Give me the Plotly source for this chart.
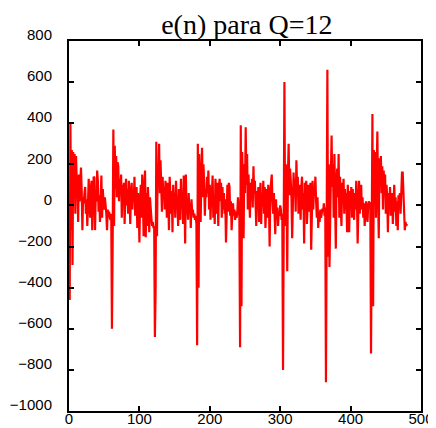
import plotly.graph_objects as go

# e(n) sample values, one list per pitch period
seg_a = [-270, -460, 400, -120, 270, -290, 260, 60, 250, -40,
         240, 120, 130, -80, 150, 20, 100, 185, 80, -120,
         40, 10, 60, 90, -40, 30, -100, 40, 130, 10,
         -60, 80, 120, -120, 20, 140, 135, -120, 60, 20,
         170, 120, -30, 50, -80, 60, 145, -60, 80, 20,
         -20, 40, 10, -40, -120, -20, -50, -30, -60, -70,
         -40]
seg_b = [-600, -190, 370, -100, 290, 80, 240, 40, 210, 190,
         20, 130, 60, 150, -60, 100, 30, 110, -90, 50,
         130, 0, 80, -40, 120, 40, -90, 60, 110, -20,
         70, 20, 140, -50, 40, 90, -110, 60, 10, -180,
         30, 100, -60, 150, 40, -150, 80, 170, -155, 60,
         -100, 90, 20, -130, 40, -40, -60, -100, -80, -110,
         -100]
seg_c = [-640, -420, 310, -150, 200, 120, 300, 60, 220, 100,
         -30, 140, 40, 90, -20, 120, 70, -60, 110, 20,
         -120, 140, 30, -40, 70, -130, 100, 10, 60, -60,
         120, -10, 40, -100, 80, 20, -70, 130, 0, 50,
         -90, 145, 40, -185, 150, -40, 20, -70, 60, -30,
         10, -110, 30, -40, -20, -60, -40, -70, -50, -90]
seg_d = [-680, 300, -400, 250, 120, -80, 150, 280, 40, 200,
         100, -50, 80, 40, 140, 60, 170, -20, 100, -70,
         50, 60, 145, -60, 20, -90, 130, 60, -40, 110,
         -100, 90, 130, 20, 110, -60, 90, -20, 60, -40,
         30, -180, 50, 100, -30, 110, 90, -50, 20, -120,
         -40, 10, -50, -20, -70, -30, -60, -40, 40, -30,
         -50]
seg_e = [-690, 390, -490, 260, 120, -160, 200, 60, 380, 100,
         250, -20, 150, 60, -60, 110, 40, 130, -10, 190,
         60, 120, 0, -100, 70, 20, 90, -80, 40, 110,
         -90, 60, 10, 120, -40, 90, -110, 30, 80, -60,
         100, 10, -200, 70, 130, 150, 20, -40, 60, -20,
         -140, 30, -60, -10, -100, -30, -50, 0, -20, -70,
         -40]
seg_f = [-800, -200, 600, -100, 200, 80, -320, 150, 300, 50,
         180, 120, 40, -160, 100, 160, 50, 130, -30, 220,
         80, 140, -40, 100, 30, -70, 90, 140, -20, 60,
         -185, 110, 20, 120, -90, 40, 100, -30, 80, 110,
         -215, 50, 120, -20, 90, 60, 140, 20, -60, 40,
         -110, -30, -80, -20, -60, -40, -15, -30, 10, -50,
         -10]
seg_g = [-860, -300, 660, -250, 200, -300, 80, 150, 340, 90,
         200, -60, 250, 60, -210, 120, 180, 40, 250, -60,
         140, 10, -100, 110, 50, 130, -40, 80, -20, 60,
         -130, 100, 20, -130, 70, 0, 90, -60, 80, 30,
         -70, 60, -20, 120, 40, -185, 80, 120, -40, 50,
         100, -20, 40, -60, 10, -100, -30, 20, -40, -80,
         0, 20, 10, 10]
seg_h = [-720, -150, 445, -490, 270, 150, 260, -60, 200, 360,
         50, -160, 230, 120, 240, 60, 190, -20, 170, 80,
         150, -40, 100, 40, -130, 60, 0, 90, -50, 30,
         60, -90, 80, 100, -30, 40, -100, 20, -120, 50,
         10, 60, -40, 90, 160, 160, 40, -30, -120, -80,
         -100, -90]

e_n = seg_a + seg_b + seg_c + seg_d + seg_e + seg_f + seg_g + seg_h
n = list(range(len(e_n)))

x_ticks = [0, 100, 200, 300, 400, 500]
y_ticks = [-1000, -800, -600, -400, -200, 0, 200, 400, 600, 800]

fig = go.Figure()
fig.add_trace(go.Scatter(x=n, y=e_n, mode='lines',
                         line=dict(color='#ff0000', width=2.2),
                         showlegend=False))

axis_style = dict(showgrid=False, zeroline=False, showline=True,
                  linecolor='black', linewidth=2, mirror='ticks',
                  ticks='inside', ticklen=5, tickwidth=2, tickcolor='black',
                  automargin=False,
                  tickfont=dict(family='Liberation Sans, Arial', size=15,
                                color='black'))

fig.update_xaxes(range=[0, 500], tickvals=x_ticks, ticklabelstandoff=-7,
                 **axis_style)
fig.update_yaxes(range=[-1000, 800], tickvals=y_ticks,
                 ticklabelstandoff=12, ticklabelshift=-6, **axis_style)

# page body has an 8px margin, so the figure is 8px smaller than the window
fig.update_layout(
    width=428, height=420,
    margin=dict(l=61, r=15, t=33, b=17, autoexpand=False),
    paper_bgcolor='white', plot_bgcolor='white',
    title=dict(text='e(n) para Q=12', x=0.558, xanchor='center',
               y=0.962, yanchor='middle', automargin=False,
               font=dict(family='Liberation Serif, Times New Roman',
                         size=28, color='black')),
)

fig.write_html("out.html")
